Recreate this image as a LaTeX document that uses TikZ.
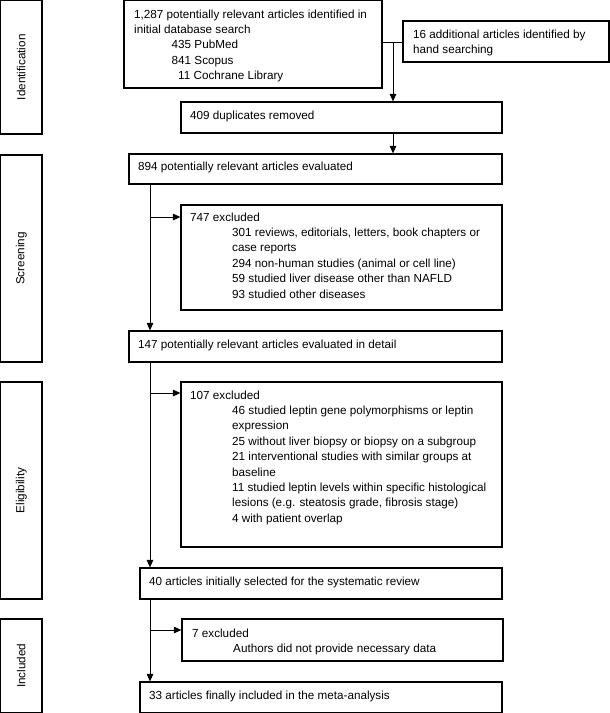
\documentclass[tikz,border=0pt]{standalone}
\usepackage{fontspec}
\setmainfont{Liberation Sans}
\usetikzlibrary{arrows.meta,fit}
\begin{document}
\begin{tikzpicture}[x=1pt,y=-1pt,
  font=\fontsize{11.7pt}{15.4pt}\selectfont,
  box/.style={draw, line width=1.2pt, inner sep=0pt, rectangle},
  txt/.style={anchor=base west, align=left, inner sep=0pt},
  side/.style={rotate=90, inner sep=0pt},
  arr/.style={line width=1pt, -{Triangle[length=7.5pt,width=6.5pt]}},
  ln/.style={line width=1pt}]
\useasboundingbox (0,0) rectangle (610,713);
% side boxes
\node[box, fit={(0.6,0.6) (42,134)}] (idb) {};
\node[box, fit={(0.6,155) (42,362)}] (scb) {};
\node[box, fit={(0.6,382) (42,599)}] (elb) {};
\node[box, fit={(0.6,619) (42,712.4)}] (inb) {};
\node[side] (idl) at (idb.center) {Identification};
\node[side] (scl) at (scb.center) {Screening};
\node[side] (ell) at (elb.center) {Eligibility};
\node[side] (inl) at (inb.center) {Included};
% flow boxes
\node[box, fit={(124,0.6) (382,88)}] (top) {};
\node[box, fit={(403,21) (609,62)}] (hand) {};
\node[box, fit={(181,102) (502,133)}] (dup) {};
\node[box, fit={(129,154) (502,184)}] (e894) {};
\node[box, fit={(181,205) (502,310)}] (x747) {};
\node[box, fit={(129,331) (502,362)}] (e147) {};
\node[box, fit={(181,382) (502,547)}] (x107) {};
\node[box, fit={(140,568) (502,599)}] (s40) {};
\node[box, fit={(182,619) (503,661)}] (x7) {};
\node[box, fit={(140,682) (502,712.4)}] (f33) {};
% texts (base = baseline of last line)
\node[txt] (ttop) at (134,79.6) {1,287 potentially relevant articles identified in\\
initial database search\\
\hspace*{37.5pt}435 PubMed\\
\hspace*{37.5pt}841 Scopus\\
\hspace*{37.5pt}\phantom{0}11 Cochrane Library};
\node[txt] (thand) at (413,53.4) {16 additional articles identified by\\hand searching};
\node[txt] (tdup) at (190,119) {409 duplicates removed};
\node[txt] (t894) at (138,170) {894 potentially relevant articles evaluated};
\node[txt] (t747) at (190,298) {747 excluded\\
\hspace*{42pt}301 reviews, editorials, letters, book chapters or\\
\hspace*{42pt}case reports\\
\hspace*{42pt}294 non-human studies (animal or cell line)\\
\hspace*{42pt}59 studied liver disease other than NAFLD\\
\hspace*{42pt}93 studied other diseases};
\node[txt] (t147) at (138,348) {147 potentially relevant articles evaluated in detail};
\node[txt] (t107) at (190,522.2) {107 excluded\\
\hspace*{42pt}46 studied leptin gene polymorphisms or leptin\\
\hspace*{42pt}expression\\
\hspace*{42pt}25 without liver biopsy or biopsy on a subgroup\\
\hspace*{42pt}21 interventional studies with similar groups at\\
\hspace*{42pt}baseline\\
\hspace*{42pt}11 studied leptin levels within specific histological\\
\hspace*{42pt}lesions (e.g. steatosis grade, fibrosis stage)\\
\hspace*{42pt}4 with patient overlap};
\node[txt] (t40) at (149,585) {40 articles initially selected for the systematic review};
\node[txt] (t7) at (192,652.4) {7 excluded\\
\hspace*{41pt}Authors did not provide necessary data};
\node[txt] (t33) at (149,699) {33 articles finally included in the meta-analysis};
% connectors
\coordinate (j1) at (393,42);
\coordinate (sx) at (150,0);
\coordinate (b1) at (150,217);
\coordinate (b2) at (150,393);
\coordinate (b3) at (150,630);
\draw[ln] (top.east |- j1) -- (hand.west |- j1);
\draw[arr] (j1) -- (dup.north -| j1);
\draw[arr] (dup.south -| j1) -- (e894.north -| j1);
\draw[arr] (e894.south -| sx) -- (e147.north -| sx);
\draw[arr] (b1) -- (b1 -| x747.west);
\draw[arr] (e147.south -| sx) -- (s40.north -| sx);
\draw[arr] (b2) -- (b2 -| x107.west);
\draw[arr] (s40.south -| sx) -- (f33.north -| sx);
\draw[arr] (b3) -- (b3 -| x7.west);
\end{tikzpicture}
\end{document}
